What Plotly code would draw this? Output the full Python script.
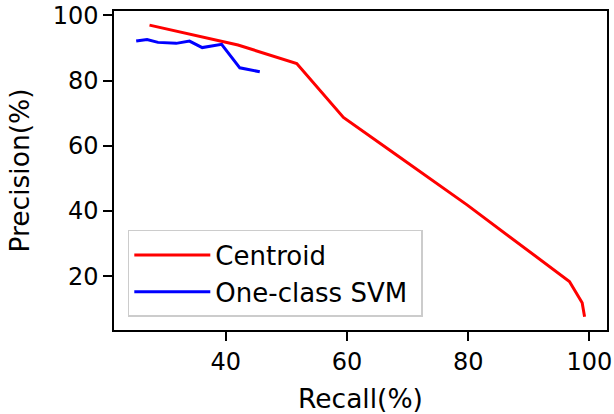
import plotly.graph_objects as go

centroid_recall = [27.4, 42.0, 51.7, 59.4, 68.0, 79.8, 96.7, 98.8, 99.2]
centroid_precision = [97.0, 90.9, 85.2, 68.7, 57.4, 41.9, 18.4, 11.9, 7.6]

svm_recall = [25.2, 27.0, 28.8, 31.8, 34.0, 36.1, 39.3, 42.3, 45.6]
svm_precision = [92.1, 92.6, 91.7, 91.4, 92.1, 90.1, 91.1, 83.9, 82.7]

x_ticks = [40, 60, 80, 100]
y_ticks = [20, 40, 60, 80, 100]

FONT = "DejaVu Sans"

fig = go.Figure()
fig.add_trace(go.Scatter(x=centroid_recall, y=centroid_precision, mode="lines",
                         name="Centroid", line=dict(color="#ff0000", width=3)))
fig.add_trace(go.Scatter(x=svm_recall, y=svm_precision, mode="lines",
                         name="One-class SVM\u00a0", line=dict(color="#0000ff", width=3)))

axis_common = dict(showgrid=False, zeroline=False, showline=True, linecolor="black",
                   linewidth=1.5, mirror=True, ticks="outside", ticklen=9, tickwidth=1.5,
                   tickcolor="black", automargin=False,
                   tickfont=dict(family=FONT, size=24, color="black"))

fig.update_layout(
    width=614, height=414,
    margin=dict(l=114, r=7, t=11, b=84),
    paper_bgcolor="white", plot_bgcolor="white",
    font=dict(family=FONT, size=24, color="black"),
    xaxis=dict(range=[21.54, 102.9], tickvals=x_ticks,
               title=dict(text="Recall(%)", font=dict(family=FONT, size=26.5), standoff=15),
               **axis_common),
    yaxis=dict(range=[3.54, 101.32], tickvals=y_ticks,
               title=dict(text="Precision(%)", font=dict(family=FONT, size=26.5), standoff=15),
               **axis_common),
    legend=dict(x=0.028, y=0.3135, xanchor="left", yanchor="top",
                bgcolor="rgba(255,255,255,0.8)", bordercolor="#cccccc", borderwidth=1.5,
                font=dict(family=FONT, size=26, color="black"), itemwidth=76,
                tracegroupgap=0),
    showlegend=True,
)

fig.write_html("out.html", config={"displayModeBar": False},
               post_script="document.body.style.margin='0';document.body.style.padding='0';")
